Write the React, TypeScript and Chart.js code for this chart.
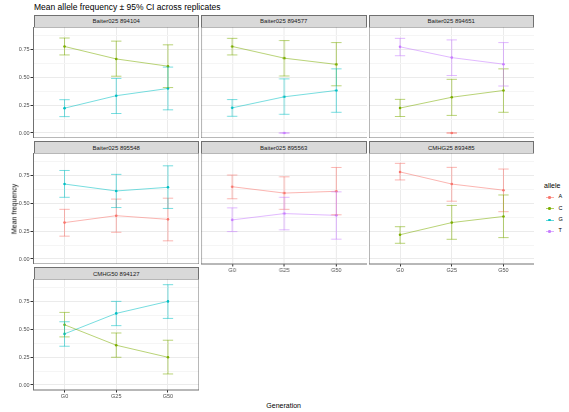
import { useEffect, useRef } from "react";
import { Chart, registerables, Plugin } from "chart.js";

Chart.register(...registerables);

// ---- data ----
const generations = ["G0", "G25", "G50"];
const alleles = ["A", "C", "G", "T"];
const alleleColors = ["#F8766D", "#7CAE00", "#00BFC4", "#C77CFF"];
const yMajorTicks = [0, 0.25, 0.5, 0.75];
const yMinorTicks = [0.125, 0.375, 0.625, 0.875];

const panelTitles = [
  "Baiter025 894104",
  "Baiter025 894577",
  "Baiter025 894651",
  "Baiter025 895548",
  "Baiter025 895563",
  "CMHG25 893485",
  "CMHG50 894127",
];

// mean / lower CI / upper CI per allele, one set per facet
const mean894104 = { C: [0.777, 0.665, 0.6], G: [0.223, 0.335, 0.4] };
const lower894104 = { C: [0.701, 0.51, 0.408], G: [0.147, 0.175, 0.208] };
const upper894104 = { C: [0.853, 0.825, 0.792], G: [0.299, 0.49, 0.592] };

const mean894577 = { C: [0.777, 0.672, 0.616], G: [0.226, 0.325, 0.382], T: [null, 0, null] };
const lower894577 = { C: [0.701, 0.512, 0.424], G: [0.15, 0.168, 0.186], T: [null, 0, null] };
const upper894577 = { C: [0.85, 0.83, 0.812], G: [0.3, 0.486, 0.576], T: [null, 0, null] };

const mean894651 = { A: [null, 0, null], C: [0.224, 0.321, 0.382], T: [0.774, 0.677, 0.618] };
const lower894651 = { A: [null, 0, null], C: [0.148, 0.158, 0.186], T: [0.694, 0.516, 0.422] };
const upper894651 = { A: [null, 0, null], C: [0.302, 0.482, 0.576], T: [0.85, 0.836, 0.812] };

const mean895548 = { A: [0.327, 0.389, 0.356], G: [0.673, 0.611, 0.644] };
const lower895548 = { A: [0.205, 0.24, 0.163], G: [0.554, 0.462, 0.454] };
const upper895548 = { A: [0.446, 0.538, 0.546], G: [0.795, 0.76, 0.837] };

const mean895563 = { A: [0.649, 0.592, 0.608], T: [0.351, 0.408, 0.392] };
const lower895563 = { A: [0.541, 0.446, 0.397], T: [0.246, 0.262, 0.178] };
const upper895563 = { A: [0.754, 0.738, 0.822], T: [0.459, 0.554, 0.603] };

const mean893485 = { A: [0.782, 0.673, 0.618], C: [0.218, 0.327, 0.382] };
const lower893485 = { A: [0.71, 0.519, 0.425], C: [0.141, 0.177, 0.192] };
const upper893485 = { A: [0.859, 0.823, 0.808], C: [0.29, 0.481, 0.575] };

const mean894127 = { C: [0.541, 0.357, 0.249], G: [0.459, 0.643, 0.751] };
const lower894127 = { C: [0.432, 0.249, 0.099], G: [0.348, 0.533, 0.598] };
const upper894127 = { C: [0.652, 0.467, 0.402], G: [0.568, 0.751, 0.901] };

const facetMeans = [mean894104, mean894577, mean894651, mean895548, mean895563, mean893485, mean894127];
const facetLowers = [lower894104, lower894577, lower894651, lower895548, lower895563, lower893485, lower894127];
const facetUppers = [upper894104, upper894577, upper894651, upper895548, upper895563, upper893485, upper894127];

// ---- layout ----
const FONT = "'Liberation Sans', Arial, Helvetica, sans-serif";
const COL_LEFT = [33.5, 201, 368.5];
const ROW_TOP = [27, 153.3, 279.3];
const PLOT_W = 165.5;
const PLOT_H = 111;
const STRIP_H = 12.5;
const Y_AXIS_W = 33.5;
const X_AXIS_H = 12;
const LINE_ALPHA = 0.6;

function withAlpha(hex: string, a: number) {
  const n = parseInt(hex.slice(1), 16);
  return `rgba(${(n >> 16) & 255},${(n >> 8) & 255},${n & 255},${a})`;
}

const errorBarPlugin: Plugin = {
  id: "errorBars",
  afterDatasetsDraw(chart) {
    const { ctx } = chart;
    const xs = chart.scales.x;
    const ys = chart.scales.y;
    ctx.save();
    chart.data.datasets.forEach((ds: any) => {
      ctx.strokeStyle = ds.borderColor;
      ctx.lineWidth = 0.9;
      ds.lower.forEach((lo: number | null, i: number) => {
        const hi = ds.upper[i];
        if (lo == null || hi == null) return;
        const px = xs.getPixelForValue(i);
        const half = xs.getPixelForValue(i + 0.1) - px;
        const yl = ys.getPixelForValue(lo);
        const yh = ys.getPixelForValue(hi);
        ctx.beginPath();
        ctx.moveTo(px, yl);
        ctx.lineTo(px, yh);
        ctx.moveTo(px - half, yl);
        ctx.lineTo(px + half, yl);
        ctx.moveTo(px - half, yh);
        ctx.lineTo(px + half, yh);
        ctx.stroke();
      });
    });
    ctx.restore();
  },
};

const panelBorderPlugin: Plugin = {
  id: "panelBorder",
  afterDraw(chart) {
    const { ctx, chartArea } = chart;
    ctx.save();
    ctx.strokeStyle = "#707070";
    ctx.lineWidth = 1;
    ctx.strokeRect(chartArea.left, chartArea.top, chartArea.right - chartArea.left, chartArea.bottom - chartArea.top);
    ctx.restore();
  },
};

interface FacetProps {
  index: number;
  row: number;
  col: number;
  showX: boolean;
  showY: boolean;
}

function Facet({ index, row, col, showX, showY }: FacetProps) {
  const canvasRef = useRef<HTMLCanvasElement>(null);
  const chartRef = useRef<Chart | null>(null);

  useEffect(() => {
    if (!canvasRef.current) return;
    if (chartRef.current) chartRef.current.destroy();

    const means: any = facetMeans[index];
    const lowers: any = facetLowers[index];
    const uppers: any = facetUppers[index];

    const datasets = alleles
      .map((a, k) => ({ a, k }))
      .filter(({ a }) => means[a])
      .map(({ a, k }) => ({
        label: a,
        data: means[a].map((v: number | null, i: number) => ({ x: i, y: v })),
        lower: lowers[a],
        upper: uppers[a],
        borderColor: withAlpha(alleleColors[k], LINE_ALPHA),
        backgroundColor: alleleColors[k],
        pointBackgroundColor: alleleColors[k],
        pointBorderWidth: 0,
        pointRadius: 1.3,
        borderWidth: 0.9,
        spanGaps: false,
      }));

    const tickFont = { family: FONT, size: 5.5 };

    chartRef.current = new Chart(canvasRef.current, {
      type: "line",
      data: { datasets: datasets as any },
      options: {
        animation: false,
        responsive: true,
        maintainAspectRatio: false,
        events: [],
        layout: { padding: 0, autoPadding: false },
        plugins: { legend: { display: false }, tooltip: { enabled: false } },
        scales: {
          x: {
            type: "linear",
            min: -0.6,
            max: 2.6,
            afterBuildTicks: (s: any) => {
              s.ticks = generations.map((_, i) => ({ value: i }));
            },
            afterFit: (s: any) => {
              s.height = showX ? X_AXIS_H : 0;
              s.paddingLeft = 0;
              s.paddingRight = 0;
            },
            border: { display: false },
            grid: {
              color: "#ebebeb",
              lineWidth: 1,
              drawTicks: showX,
              tickLength: 2.5,
              tickColor: "#333333",
            },
            ticks: {
              display: showX,
              autoSkip: false,
              maxRotation: 0,
              padding: 0.5,
              color: "#4d4d4d",
              font: tickFont,
              callback: (v: any) => generations[v] ?? "",
            },
          },
          y: {
            type: "linear",
            min: -0.045,
            max: 0.952,
            afterBuildTicks: (s: any) => {
              s.ticks = [...yMajorTicks, ...yMinorTicks].sort((p, q) => p - q).map((v) => ({ value: v }));
            },
            afterFit: (s: any) => {
              s.width = showY ? Y_AXIS_W : 0;
              s.paddingTop = 0;
              s.paddingBottom = 0;
            },
            border: { display: false },
            grid: {
              color: (c: any) => (yMajorTicks.includes(c.tick?.value) ? "#ebebeb" : "#f5f5f5"),
              lineWidth: 1,
              drawTicks: showY,
              tickLength: 3,
              tickColor: (c: any) => (yMajorTicks.includes(c.tick?.value) ? "#333333" : "rgba(0,0,0,0)"),
            },
            ticks: {
              display: showY,
              autoSkip: false,
              padding: 1,
              color: "#4d4d4d",
              font: tickFont,
              callback: (v: any) => (yMajorTicks.includes(v) ? Number(v).toFixed(2) : ""),
            },
          },
        },
      },
      plugins: [errorBarPlugin, panelBorderPlugin],
    });

    return () => {
      if (chartRef.current) {
        chartRef.current.destroy();
        chartRef.current = null;
      }
    };
  }, [index, showX, showY]);

  const left = COL_LEFT[col] - (showY ? Y_AXIS_W : 0);
  const top = ROW_TOP[row];
  return (
    <>
      <div
        style={{
          position: "absolute",
          left: COL_LEFT[col],
          top: top - STRIP_H,
          width: PLOT_W,
          height: STRIP_H,
          boxSizing: "border-box",
          background: "#d9d9d9",
          border: "1px solid #707070",
          borderBottom: "none",
          fontFamily: FONT,
          fontSize: 6,
          color: "#1a1a1a",
          display: "flex",
          alignItems: "center",
          justifyContent: "center",
          lineHeight: 1,
        }}
      >
        {panelTitles[index]}
      </div>
      <div
        style={{
          position: "absolute",
          left,
          top,
          width: PLOT_W + (showY ? Y_AXIS_W : 0),
          height: PLOT_H + (showX ? X_AXIS_H : 0),
        }}
      >
        <canvas ref={canvasRef} />
      </div>
    </>
  );
}

const facetGrid = [
  { row: 0, col: 0 },
  { row: 0, col: 1 },
  { row: 0, col: 2 },
  { row: 1, col: 0 },
  { row: 1, col: 1 },
  { row: 1, col: 2 },
  { row: 2, col: 0 },
];

export default function App() {
  return (
    <div
      style={{
        position: "absolute",
        left: 0,
        top: 0,
        width: 569,
        height: 412,
        background: "#ffffff",
        overflow: "hidden",
        fontFamily: FONT,
      }}
    >
      <div style={{ position: "absolute", left: 34, top: 3, fontSize: 8.5, lineHeight: 1, color: "#000" }}>
        Mean allele frequency ± 95% CI across replicates
      </div>

      {facetGrid.map((f, i) => (
        <Facet
          key={i}
          index={i}
          row={f.row}
          col={f.col}
          showY={f.col === 0}
          showX={f.row === 2 || (f.row === 1 && f.col > 0)}
        />
      ))}

      <div
        style={{
          position: "absolute",
          left: 13.5,
          top: 208.5,
          transform: "translate(-50%, -50%) rotate(-90deg)",
          fontSize: 7,
          lineHeight: 1,
          whiteSpace: "nowrap",
          color: "#000",
        }}
      >
        Mean frequency
      </div>
      <div
        style={{
          position: "absolute",
          left: 283.7,
          top: 404.5,
          transform: "translate(-50%, -50%)",
          fontSize: 7,
          lineHeight: 1,
          whiteSpace: "nowrap",
          color: "#000",
        }}
      >
        Generation
      </div>

      <div style={{ position: "absolute", left: 544, top: 181.5, fontSize: 7, lineHeight: 1, color: "#000" }}>allele</div>
      {alleles.map((a, k) => {
        const cy = 197.3 + k * 11.35;
        return (
          <div key={a}>
            <div
              style={{
                position: "absolute",
                left: 545.5,
                top: cy - 0.5,
                width: 8,
                height: 1,
                background: withAlpha(alleleColors[k], LINE_ALPHA),
              }}
            />
            <div
              style={{
                position: "absolute",
                left: 548,
                top: cy - 1.3,
                width: 2.6,
                height: 2.6,
                borderRadius: "50%",
                background: alleleColors[k],
              }}
            />
            <div
              style={{
                position: "absolute",
                left: 558.5,
                top: cy,
                transform: "translateY(-50%)",
                fontSize: 5.5,
                lineHeight: 1,
                color: "#000",
              }}
            >
              {a}
            </div>
          </div>
        );
      })}
    </div>
  );
}
